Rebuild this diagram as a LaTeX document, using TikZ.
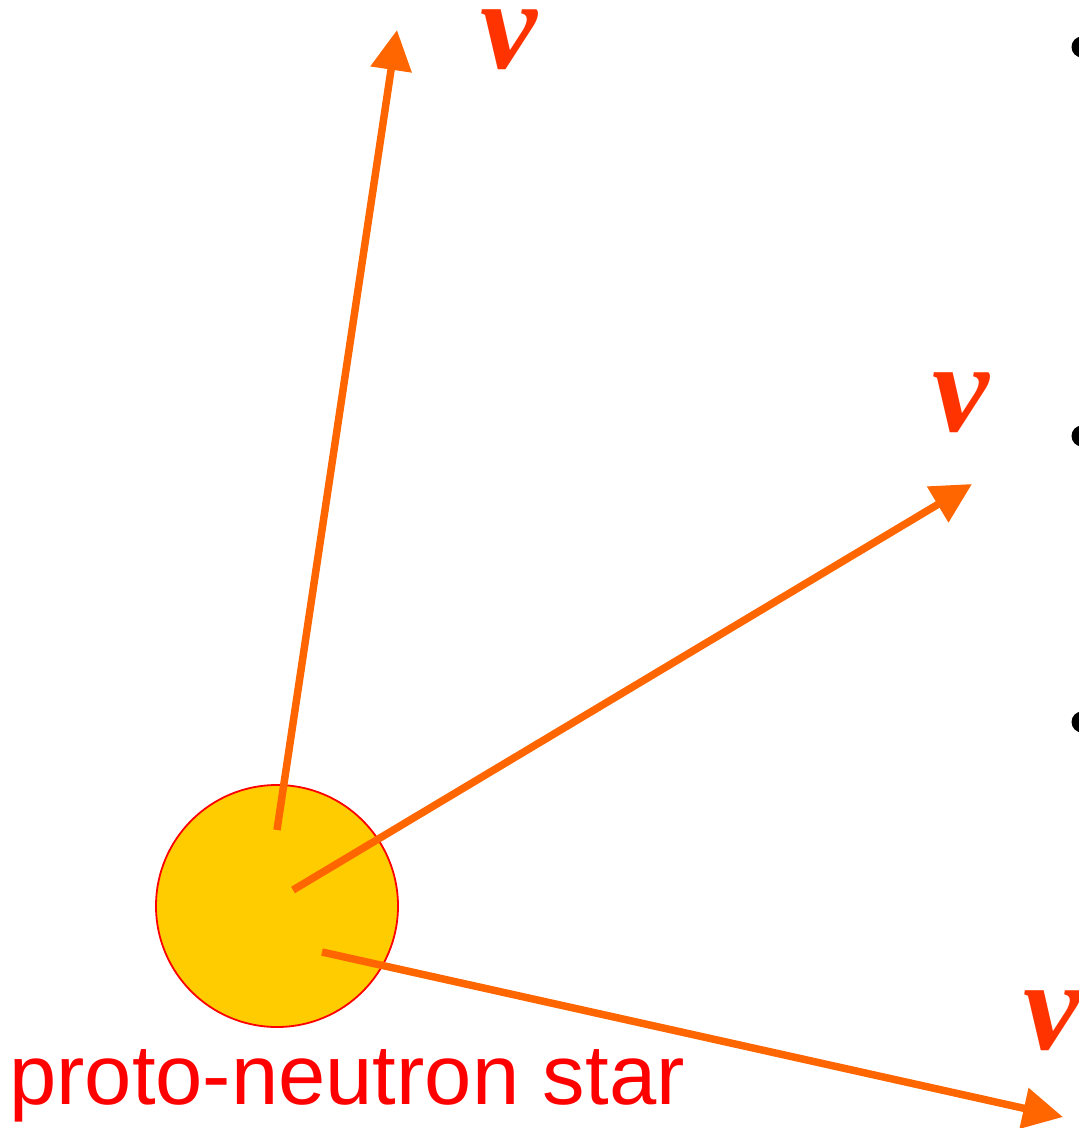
\documentclass[tikz,border=0pt]{standalone}
\usepackage{fontspec}
\setmainfont{Liberation Sans}
\newfontfamily\nufont{Liberation Serif}
\usetikzlibrary{positioning,arrows.meta}
\definecolor{StarYellow}{HTML}{FFCC00}
\definecolor{StarRed}{HTML}{FF0000}
\definecolor{NuOrange}{HTML}{FF6600}
\definecolor{NuRed}{HTML}{FF3300}

\begin{document}
\begin{tikzpicture}[
  x=1pt,y=-1pt,
  star/.style={circle,draw=StarRed,line width=1.8pt,fill=StarYellow,minimum size=242pt,inner sep=0pt},
  nulabel/.style={font=\nufont\bfseries\itshape\fontsize{128}{128}\selectfont,text=NuRed,inner sep=0pt,text height=60pt,text depth=0pt},
  bullet/.style={circle,fill=black,minimum size=21pt,inner sep=0pt},
  arr/.style={-{Triangle[length=40pt,width=40pt]},line width=7.5pt,draw=NuOrange}
]
  \useasboundingbox (0,0) rectangle (1079,1128);

  % proto-neutron star
  \node[star] (pns) at (277,906) {};
  \node[anchor=base west,inner sep=0pt,text=StarRed,font=\fontsize{85}{85}\selectfont] (pnslabel) at (9,1104) {proto-neutron star};

  % neutrino directions
  \coordinate (startA) at (277,830);
  \coordinate (startB) at (293,890);
  \coordinate (startC) at (322,952);
  \coordinate (tipA) at (397,30);
  \coordinate (tipB) at (972,484);
  \coordinate (tipC) at (1063,1117);

  \draw[arr] (startA) -- (tipA);
  \draw[arr] (startB) -- (tipB);
  \draw[arr] (startC) -- (tipC);

  \node[nulabel] (nuA) at (509,38) {ν};
  \node[nulabel] (nuB) at (961,401) {ν};
  \node[nulabel] (nuC) at (1052,1019) {ν};

  % slide bullets, cut off at the edge
  \node[bullet] (bulletA) at (1082,47) {};
  \node[bullet] (bulletB) at (1082,436) {};
  \node[bullet] (bulletC) at (1082,722) {};
\end{tikzpicture}
\end{document}
